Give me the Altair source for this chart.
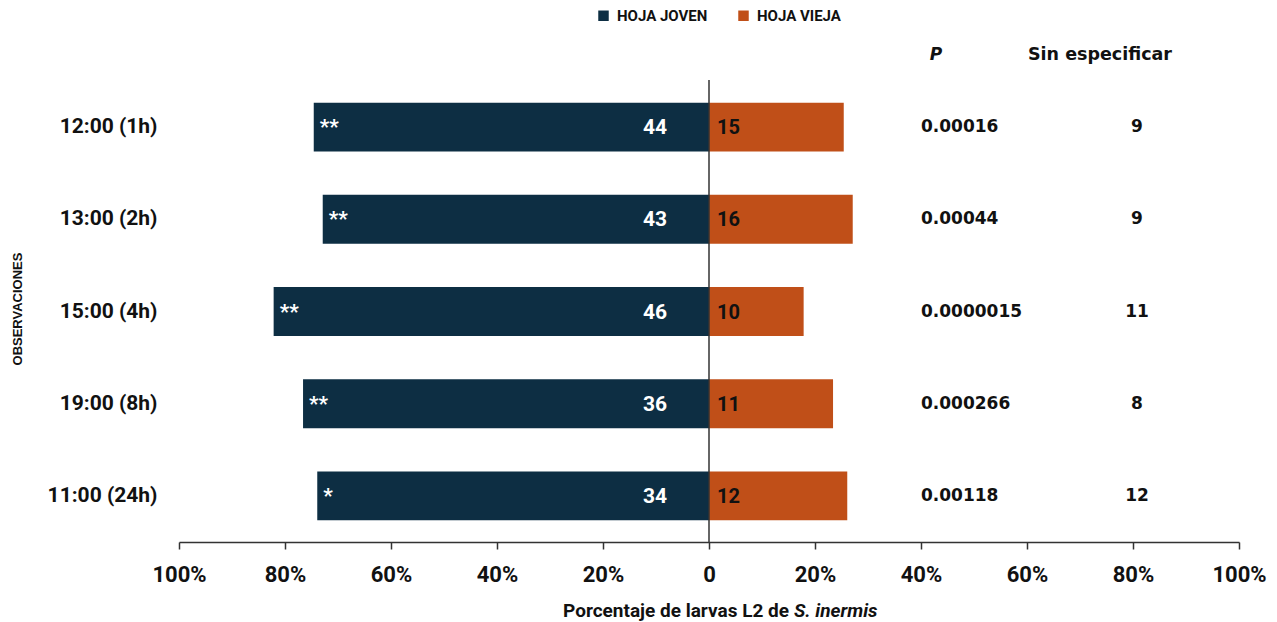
import altair as alt
import pandas as pd

horarios = ["12:00 (1h)", "13:00 (2h)", "15:00 (4h)", "19:00 (8h)", "11:00 (24h)"]
joven = [44, 43, 46, 36, 34]
vieja = [15, 16, 10, 11, 12]
signif = ["**", "**", "**", "**", "*"]
p_vals = ["0.00016", "0.00044", "0.0000015", "0.000266", "0.00118"]
sin_esp = [9, 9, 11, 8, 12]
series = ["HOJA JOVEN", "HOJA VIEJA"]
colors = ["#0d2e43", "#c04f18"]

rows = []
for h, j, v, s, p, n in zip(horarios, joven, vieja, signif, p_vals, sin_esp):
    tot = j + v
    rows.append(dict(hora=h, serie=series[0], n=j, val=-j / tot, sig=s, p=p, sin=n))
    rows.append(dict(hora=h, serie=series[1], n=v, val=v / tot, sig=s, p=p, sin=n))
df = pd.DataFrame(rows)
dj = df[df.serie == series[0]]
dv = df[df.serie == series[1]]
hdr = pd.DataFrame({"k": [0]})

W, H = 1060, 461

xscale = alt.Scale(domain=[-1, 1], nice=False)
yenc = alt.Y("hora:N", sort=horarios,
             scale=alt.Scale(paddingInner=0.47, paddingOuter=0.235),
             axis=alt.Axis(title="OBSERVACIONES", domain=False, ticks=False,
                           labelFont="Roboto", labelFontWeight="bold", labelFontSize=21,
                           labelColor="#111", labelPadding=22,
                           titleFont="Liberation Sans", titleFontWeight="bold", titleFontSize=13,
                           titleColor="#111", titleX=-162, titleY=H / 2 - 3, titleAngle=-90,
                           titleAlign="center", titleBaseline="middle"))

xaxis = alt.Axis(title=None, values=[-1, -0.8, -0.6, -0.4, -0.2, 0, 0.2, 0.4, 0.6, 0.8, 1],
                 labelExpr="datum.value == 0 ? '0' : format(abs(datum.value), '.0%')",
                 grid=False, domainColor="#333", domainWidth=1.5, tickColor="#333",
                 tickWidth=1.5, tickSize=7, labelFont="Roboto", labelFontWeight="bold",
                 labelFontSize=22, labelColor="#111", labelPadding=15,
                 labelFlush=False, labelBound=False, labelOverlap=False)

bars = alt.Chart(df).mark_bar().encode(
    x=alt.X("val:Q", scale=xscale, axis=xaxis, stack=None),
    y=yenc,
    color=alt.Color("serie:N", scale=alt.Scale(domain=series, range=colors),
                    legend=alt.Legend(title=None, orient="none", direction="horizontal",
                                      legendX=417, legendY=-73, symbolType="square",
                                      symbolSize=110, symbolStrokeWidth=0,
                                      labelFont="Roboto", labelFontWeight="bold",
                                      labelFontSize=15, labelColor="#111",
                                      columnPadding=28, labelOffset=6)),
)

cnt_j = alt.Chart(dj).mark_text(align="right", baseline="middle", dx=-42, dy=1,
                                font="Roboto", fontWeight="bold", fontSize=21,
                                color="white").encode(
    x=alt.datum(0), y=alt.Y("hora:N", sort=horarios), text="n:Q")

stars = alt.Chart(dj).mark_text(align="left", baseline="middle", dx=6, dy=1,
                                font="Roboto", fontWeight="bold", fontSize=21,
                                color="white").encode(
    x="val:Q", y=alt.Y("hora:N", sort=horarios), text="sig:N")

cnt_v = alt.Chart(dv).mark_text(align="left", baseline="middle", dx=8, dy=1,
                                font="Roboto", fontWeight="bold", fontSize=20,
                                color="#111").encode(
    x=alt.datum(0), y=alt.Y("hora:N", sort=horarios), text="n:Q")

ptxt = alt.Chart(dj).mark_text(align="left", baseline="middle", font="DejaVu Sans",
                               fontWeight="bold", fontSize=17, color="#111").encode(
    x=alt.value(742), y=alt.Y("hora:N", sort=horarios), text="p:N")

stxt = alt.Chart(dj).mark_text(align="center", baseline="middle", font="DejaVu Sans",
                               fontWeight="bold", fontSize=17, color="#111").encode(
    x=alt.value(958), y=alt.Y("hora:N", sort=horarios), text="sin:Q")

hp = alt.Chart(hdr).mark_text(align="center", baseline="middle", font="DejaVu Sans",
                              fontWeight="bold", fontStyle="italic", fontSize=17,
                              color="#111", text="P").encode(
    x=alt.value(757), y=alt.value(-26))
hs = alt.Chart(hdr).mark_text(align="center", baseline="middle", font="DejaVu Sans",
                              fontWeight="bold", fontSize=17.5, color="#111",
                              text="Sin especificar").encode(
    x=alt.value(921), y=alt.value(-26))

zero = alt.Chart(hdr).mark_rule(color="#333", strokeWidth=1.5).encode(
    x=alt.datum(0), y=alt.value(-1), y2=alt.value(H))

t1 = alt.Chart(hdr).mark_text(align="right", baseline="middle", font="Roboto",
                              fontWeight="bold", fontSize=19, color="#111",
                              text="Porcentaje de larvas L2 de").encode(
    x=alt.value(610), y=alt.value(H + 69))
t2 = alt.Chart(hdr).mark_text(align="left", baseline="middle", font="Roboto",
                              fontWeight="bold", fontStyle="italic", fontSize=19,
                              color="#111", text="S. inermis").encode(
    x=alt.value(615), y=alt.value(H + 69))

chart = alt.layer(bars, zero, cnt_j, stars, cnt_v, ptxt, stxt, hp, hs, t1, t2).properties(
    width=W, height=H,
    background="white",
    autosize=alt.AutoSizeParams(type="none"),
    padding={"left": 179, "top": 81, "right": 38, "bottom": 80},
).configure_view(strokeWidth=0, stroke=None)

chart.save("out.html", embed_options={"renderer": "svg", "actions": False})
